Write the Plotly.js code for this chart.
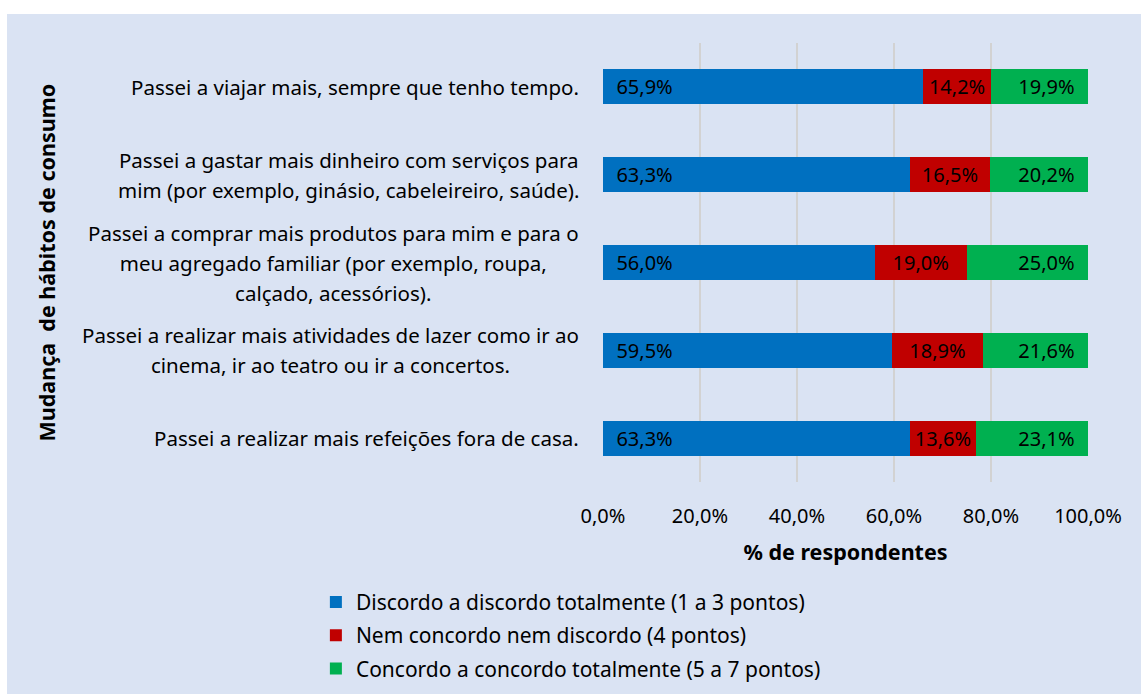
<!DOCTYPE html>
<html>
<head>
<meta charset="utf-8">
<script src="https://cdn.plot.ly/plotly-3.0.1.min.js"></script>
<style>
  html, body { margin: 0; padding: 0; background: #ffffff; }
  #chart { position: absolute; left: 7px; top: 14px; width: 1134px; height: 680px; }
</style>
</head>
<body>
<div id="chart"></div>
<script>
// ---- data ----
const categories = [
  "Passei a viajar mais, sempre que tenho tempo.",
  "Passei a gastar mais dinheiro com serviços para<br>mim (por exemplo, ginásio, cabeleireiro, saúde).",
  "Passei a comprar mais produtos para mim e para o<br>meu agregado familiar (por exemplo, roupa,<br>calçado, acessórios).",
  "Passei a realizar mais atividades de lazer como ir ao<br>cinema, ir ao teatro ou ir a concertos.",
  "Passei a realizar mais refeições fora de casa."
];
const discordo = [65.9, 63.3, 56.0, 59.5, 63.3];
const nem      = [14.2, 16.5, 19.0, 18.9, 13.6];
const concordo = [19.9, 20.2, 25.0, 21.6, 23.1];
const seriesNames = [
  "Discordo a discordo totalmente (1 a 3 pontos)",
  "Nem concordo nem discordo (4 pontos)",
  "Concordo a concordo totalmente (5 a 7 pontos)"
];
const xTickVals = [0, 20, 40, 60, 80, 100];
const xTickText = xTickVals.map(function (v) { return v.toFixed(1).replace(".", ",") + "%"; });
const yTitle = "Mudança  de hábitos de consumo";
const xTitle = "% de respondentes";

// ---- styles ----
const FONT = "Noto Sans, Open Sans, DejaVu Sans, sans-serif";
const colors = ["#0070C0", "#C00000", "#00B050"];
const NB = "\u00a0\u00a0";

function barTrace(vals, name, color, anchor, tmpl, group) {
  return {
    type: "bar", orientation: "h",
    y: categories, x: vals, name: name,
    legendgroup: group,
    marker: { color: color },
    width: 0.4,
    text: vals,
    texttemplate: tmpl,
    textposition: "inside",
    insidetextanchor: anchor,
    constraintext: "none",
    textfont: { family: FONT, size: 20, color: "#000000" },
    hoverinfo: "x+name"
  };
}

const data = [
  barTrace(discordo, seriesNames[0], colors[0], "start", NB + "%{x:.1f}%", "g1"),
  barTrace(nem,      seriesNames[1], colors[1], "middle", "%{x:.1f}%", "g2"),
  barTrace(concordo, seriesNames[2], colors[2], "end", "%{x:.1f}%" + NB, "g3")
];

// category labels as annotations (centered lines, right-anchored block)
const annotations = categories.map(function (c) {
  const lines = c.split("<br>").map(function (l) {
    return '<span style="font-size:20.5px">' + l + '</span>';
  });
  return {
    xref: "paper", yref: "y",
    x: 0, y: c,
    xanchor: "right", yanchor: "middle",
    xshift: -22,
    align: "center",
    showarrow: false,
    text: lines.join("<br>"),
    font: { family: FONT, size: 23, color: "#000000" }
  };
});
annotations.push({
  xref: "paper", yref: "paper",
  x: 0, y: 0.5, xshift: -557,
  xanchor: "center", yanchor: "middle",
  textangle: -90, showarrow: false,
  text: "<b>" + yTitle + "</b>",
  font: { family: FONT, size: 21.5, color: "#000000" }
});

const layout = {
  width: 1134, height: 680,
  paper_bgcolor: "#DAE3F3",
  plot_bgcolor: "#DAE3F3",
  separators: ",.",
  barmode: "stack",
  margin: { l: 596, r: 53, t: 29, b: 212, pad: 0, autoexpand: false },
  font: { family: FONT, size: 19, color: "#000000" },
  xaxis: {
    range: [0, 100],
    tickmode: "array",
    tickvals: xTickVals,
    ticktext: xTickText,
    showgrid: true,
    gridcolor: "#D2D2D2",
    gridwidth: 2,
    zeroline: false,
    showline: false,
    ticks: "",
    ticklabelstandoff: 20,
    tickfont: { family: FONT, size: 20, color: "#000000" },
    title: { text: "<b>" + xTitle + "</b>", standoff: 16,
             font: { family: FONT, size: 21.5, color: "#000000" } },
    fixedrange: true
  },
  yaxis: {
    type: "category",
    autorange: "reversed",
    showticklabels: false,
    showgrid: false,
    zeroline: false,
    showline: false,
    ticks: "",
    fixedrange: true
  },
  showlegend: true,
  legend: {
    orientation: "v",
    xref: "paper", x: -0.592, xanchor: "left",
    yref: "container", y: 0.165, yanchor: "top",
    bgcolor: "rgba(0,0,0,0)",
    traceorder: "grouped",
    tracegroupgap: 3,
    font: { family: FONT, size: 21, color: "#000000" }
  },
  annotations: annotations
};

Plotly.newPlot("chart", data, layout, { displayModeBar: false, responsive: false });
</script>
</body>
</html>
